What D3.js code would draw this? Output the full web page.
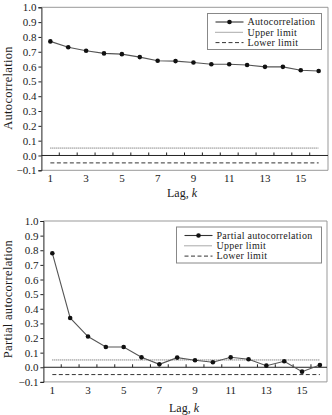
<!DOCTYPE html>
<head>
  <meta charset="utf-8">
  <script src="https://d3js.org/d3.v7.min.js"></script>
  <style>
    body { margin: 0; padding: 0; background: #fff; }
    text { font-family: "Liberation Serif", "Times New Roman", serif; fill: #1a1a1a; }
  </style>
</head>
<body>
  <script>
    // lags and the two correlation series
    var lags = d3.range(1, 17);
    var acf = [0.77, 0.73, 0.707, 0.689, 0.684, 0.664, 0.639, 0.637, 0.627, 0.616, 0.616, 0.611, 0.598, 0.598, 0.575, 0.57];
    var pacf = [0.78, 0.337, 0.21, 0.139, 0.139, 0.068, 0.02, 0.066, 0.048, 0.034, 0.068, 0.055, 0.011, 0.041, -0.03, 0.016];
    var upperLimit = 0.05,
      lowerLimit = -0.05;
    var yTicks = [-0.1, 0, 0.1, 0.2, 0.3, 0.4, 0.5, 0.6, 0.7, 0.8, 0.9, 1.0];
    var xLabels = [1, 3, 5, 7, 9, 11, 13, 15];
    var minorTicks = d3.range(1.5, 16, 1);

    var svg = d3.select("body").append("svg")
      .attr("width", 332)
      .attr("height", 415);

    function panel(values, opt) {
      var x = d3.scaleLinear().domain([0.5, 16.5]).range(opt.xr);
      var y = d3.scaleLinear().domain([-0.1, 1.0]).range(opt.yr);
      var g = svg.append("g");
      var x0 = x(0.5), x1 = opt.right;

      // gray frame (top, right, bottom)
      g.append("path")
        .attr("d", "M" + x0 + "," + y(1) + "H" + x1 + "V" + y(-0.1) + "H" + x0)
        .attr("fill", "none").attr("stroke", "#999").attr("stroke-width", 1);

      // y axis
      var yAxis = d3.axisLeft(y).tickValues(yTicks).tickSize(3).tickPadding(2)
        .tickFormat(function (d) { return d3.format(".1f")(d); });
      var ya = g.append("g").attr("transform", "translate(" + x0 + ",0)").call(yAxis);
      ya.select(".domain").attr("stroke", "#222");
      ya.selectAll(".tick line").attr("stroke", "#222");
      ya.selectAll("text").attr("font-size", 11).attr("fill", "#1a1a1a")
        .attr("font-family", "Liberation Serif");

      // zero line with small ticks
      g.append("line").attr("x1", x0).attr("x2", x1).attr("y1", y(0)).attr("y2", y(0))
        .attr("stroke", "#222").attr("stroke-width", 1);
      g.selectAll(".mt").data(minorTicks).enter().append("line")
        .attr("x1", function (d) { return x(d); }).attr("x2", function (d) { return x(d); })
        .attr("y1", y(0)).attr("y2", y(0) - 3)
        .attr("stroke", "#222").attr("stroke-width", 1);

      // x labels
      g.selectAll(".xl").data(xLabels).enter().append("text")
        .attr("x", function (d) { return x(d); })
        .attr("y", y(-0.1) + 12)
        .attr("text-anchor", "middle").attr("font-size", 11)
        .text(function (d) { return d; });

      // axis titles
      var xt = g.append("text").attr("x", opt.xTitleX).attr("y", opt.xTitleY)
        .attr("text-anchor", "middle").attr("font-size", 12);
      xt.append("tspan").text("Lag, ");
      xt.append("tspan").attr("font-style", "italic").text("k");

      g.append("text")
        .attr("transform", "translate(" + opt.yTitleX + "," + opt.yTitleY + ") rotate(-90)")
        .attr("text-anchor", "middle").attr("font-size", 12.5)
        .attr("letter-spacing", 0.3)
        .text(opt.yTitle);

      // limits
      g.append("line").attr("x1", x(1)).attr("x2", x(16))
        .attr("y1", y(upperLimit)).attr("y2", y(upperLimit))
        .attr("stroke", "#555").attr("stroke-dasharray", "1,1");
      g.append("line").attr("x1", x(1)).attr("x2", x(16))
        .attr("y1", y(lowerLimit)).attr("y2", y(lowerLimit))
        .attr("stroke", "#333").attr("stroke-dasharray", "4,2.5");

      // series
      var line = d3.line().x(function (d, i) { return x(lags[i]); }).y(function (d) { return y(d); });
      g.append("path").datum(values).attr("d", line)
        .attr("fill", "none").attr("stroke", "#555").attr("stroke-width", 1.1);
      g.selectAll(".pt").data(values).enter().append("circle")
        .attr("cx", function (d, i) { return x(lags[i]); })
        .attr("cy", function (d) { return y(d); })
        .attr("r", 2.3).attr("fill", "#111");

      // legend
      var L = opt.legend;
      var lg = g.append("g");
      lg.append("rect").attr("x", L.x).attr("y", L.y).attr("width", L.w).attr("height", L.h)
        .attr("fill", "#fff").attr("stroke", "#888");
      var items = [
        { name: opt.seriesName, dash: null, color: "#333", dot: true },
        { name: "Upper limit", dash: "1,1", color: "#555" },
        { name: "Lower limit", dash: "4,2.5", color: "#333" }
      ];
      items.forEach(function (it, i) {
        var yy = L.y + 8.5 + i * 10.3;
        lg.append("line").attr("x1", L.x + 8).attr("x2", L.x + 8 + L.sw)
          .attr("y1", yy).attr("y2", yy)
          .attr("stroke", it.color).attr("stroke-width", it.dot ? 1.1 : 1)
          .attr("stroke-dasharray", it.dash);
        if (it.dot) lg.append("circle").attr("cx", L.x + 8 + L.sw / 2).attr("cy", yy)
          .attr("r", 2.3).attr("fill", "#111");
        lg.append("text").attr("x", L.x + 12 + L.sw).attr("y", yy + 3.3)
          .attr("font-size", 10).attr("letter-spacing", 0.3).text(it.name);
      });
    }

    panel(acf, {
      xr: [41.4, 327.6], yr: [170.3, 7.3], right: 328,
      xTitleX: 182, xTitleY: 197, yTitleX: 12, yTitleY: 88,
      yTitle: "Autocorrelation", seriesName: "Autocorrelation",
      legend: { x: 207.5, y: 13.5, w: 114, h: 36, sw: 28 }
    });

    panel(pacf, {
      xr: [43.4, 328.8], yr: [381.9, 221], right: 327,
      xTitleX: 184, xTitleY: 412, yTitleX: 12, yTitleY: 299,
      yTitle: "Partial autocorrelation", seriesName: "Partial autocorrelation",
      legend: { x: 176.5, y: 227, w: 145, h: 36, sw: 28 }
    });
  </script>
</body>
